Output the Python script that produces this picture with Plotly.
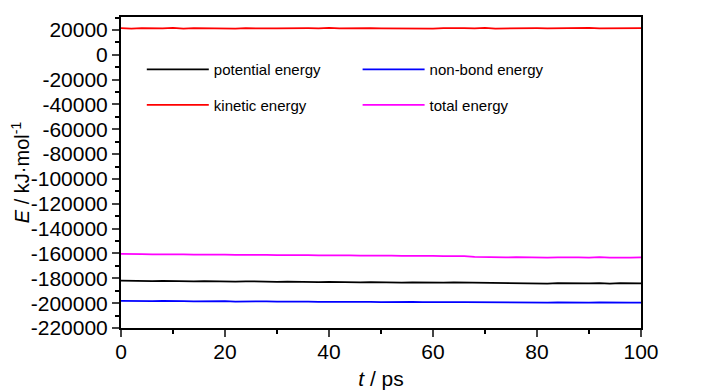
import plotly.graph_objects as go

t_ps = [i * 2 for i in range(51)]

kinetic = [
    21400, 21100, 21500, 21200, 21300, 21600, 21100, 21400, 21200, 21500,
    21300, 21000, 21400, 21600, 21200, 21300, 21500, 21100, 21400, 21300,
    21600, 21200, 21400, 21100, 21500, 21300, 21200, 21600, 21300, 21400,
    21100, 21500, 21200, 21400, 21300, 21600, 21100, 21300, 21500, 21200,
    21400, 21300, 21500, 21100, 21400, 21600, 21200, 21300, 21500, 21200,
    21400,
]
total = [
    -160300, -160700, -160500, -160800, -160600, -160900, -160700, -161000, -160800, -161100,
    -160900, -161200, -161000, -161300, -161100, -161400, -161200, -161500, -161300, -161600,
    -161400, -161700, -161500, -161800, -161600, -161900, -161700, -162000, -161800, -162100,
    -161900, -162200, -162000, -162100, -162800, -163100, -162900, -163200, -163000, -163300,
    -163000, -163300, -163100, -163400, -163100, -163300, -163000, -163400, -163100, -163300,
    -163200,
]
potential = [
    -181800, -182100, -181900, -182200, -182000, -182300, -182100, -182400, -182200, -182500,
    -182300, -182600, -182400, -182700, -182500, -182800, -182600, -182900, -182700, -183000,
    -182800, -183100, -182900, -183200, -183000, -183300, -183100, -183400, -183200, -183400,
    -183200, -183500, -183300, -183400, -183800, -184000, -183800, -184100, -183900, -184100,
    -183900, -184200, -183900, -184100, -183800, -184100, -183900, -184200, -183900, -184100,
    -184000,
]
nonbond = [
    -198100, -198300, -198200, -198400, -198200, -198500, -198300, -198500, -198400, -198600,
    -198400, -198700, -198500, -198700, -198600, -198800, -198600, -198900, -198700, -198900,
    -198800, -199000, -198800, -199000, -198900, -199100, -198900, -199100, -199000, -199200,
    -199000, -199200, -199100, -199200, -199300, -199500, -199300, -199500, -199400, -199600,
    -199400, -199600, -199400, -199600, -199500, -199600, -199400, -199600, -199500, -199600,
    -199500,
]

y_tickvals = list(range(-220000, 20001, 20000))
y_ticktext = [str(v).replace("\u2212", "-") for v in y_tickvals]
x_tickvals = [0, 20, 40, 60, 80, 100]

FONT = "Arial, Liberation Sans, sans-serif"

fig = go.Figure()
fig.add_trace(go.Scatter(x=t_ps, y=potential, mode="lines", name="potential energy",
                         line=dict(color="black", width=1.8), legend="legend", legendgroup="a"))
fig.add_trace(go.Scatter(x=t_ps, y=kinetic, mode="lines", name="kinetic energy",
                         line=dict(color="red", width=1.8), legend="legend", legendgroup="b"))
fig.add_trace(go.Scatter(x=t_ps, y=nonbond, mode="lines", name="non-bond energy",
                         line=dict(color="blue", width=1.8), legend="legend2", legendgroup="c"))
fig.add_trace(go.Scatter(x=t_ps, y=total, mode="lines", name="total energy",
                         line=dict(color="magenta", width=1.8), legend="legend2", legendgroup="d"))

leg_common = dict(font=dict(family=FONT, size=15, color="black"), bgcolor="rgba(0,0,0,0)",
                  borderwidth=0, tracegroupgap=13, itemwidth=62, yanchor="top", xanchor="left")
fig.update_layout(
    width=719, height=382,
    margin=dict(l=113, r=86, t=9, b=62),
    paper_bgcolor="white", plot_bgcolor="white",
    font=dict(family=FONT, size=21, color="black"),
    legend=dict(x=0.040, y=0.884, **leg_common),
    legend2=dict(x=0.455, y=0.884, **leg_common),
    xaxis=dict(range=[0, 100], tickvals=x_tickvals, ticks="outside", ticklen=7, tickwidth=1.5,
               showline=True, linewidth=2, linecolor="black", mirror=True, showgrid=False,
               zeroline=False, tickfont=dict(size=21), automargin=False, ticklabelstandoff=-3,
               minor=dict(dtick=10, ticks="outside", ticklen=4, tickwidth=1.5, tickcolor="black"),
               title=dict(text="<i>t</i> / ps", font=dict(size=21))),
    yaxis=dict(range=[-220000, 30400], tickvals=y_tickvals, ticktext=y_ticktext,
               ticks="outside", ticklen=7, tickwidth=1.5,
               showline=True, linewidth=2, linecolor="black", mirror=True, showgrid=False,
               zeroline=False, tickfont=dict(size=21), automargin=False,
               minor=dict(dtick=10000, ticks="outside", ticklen=4, tickwidth=1.5, tickcolor="black"),
               title=dict(text="<i>E</i> / kJ·mol<sup>-1</sup>", font=dict(size=20))),
)
fig.write_html("out.html")
